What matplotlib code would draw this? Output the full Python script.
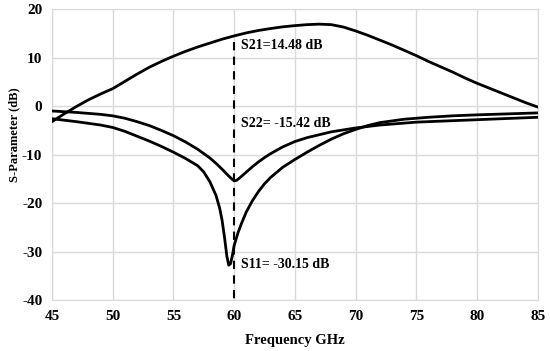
import numpy as np
import matplotlib
matplotlib.use('Agg')
import matplotlib.pyplot as plt

plt.rcParams['font.family'] = 'Liberation Serif'
plt.rcParams['font.weight'] = 'bold'
plt.rcParams['axes.unicode_minus'] = False

# values
f21 = [45, 46, 47, 48, 49, 50, 51, 52, 53, 54, 55, 56, 57, 58, 59, 60, 61, 62, 63, 64, 65, 66, 67, 68, 69, 70,
       71, 72, 73, 74, 75, 76, 77, 78, 79, 80, 81, 82, 83, 84, 85]
s21 = [-3.2, -1.6, -0.1, 1.3, 2.5, 3.6, 5.1, 6.6, 8.0, 9.2, 10.3, 11.3, 12.2, 13.0, 13.8, 14.48, 15.1, 15.6, 16.0, 16.35, 16.6, 16.8, 16.9, 16.8, 16.3, 15.5,
       14.6, 13.6, 12.6, 11.5, 10.4, 9.2, 8.1, 7.0, 5.8, 4.7, 3.7, 2.7, 1.7, 0.7, -0.2]

f22 = [45, 47, 49, 50, 51, 52, 53, 54, 55, 56, 57, 58, 58.5, 59, 59.5, 59.8, 60, 60.2, 60.5, 61, 61.5, 62, 62.5, 63, 64, 65, 66,
       67, 68, 70, 72, 75, 78, 80, 85]
s22 = [-1.0, -1.3, -1.7, -2.0, -2.5, -3.2, -4.0, -5.0, -6.1, -7.4, -8.9, -10.7, -11.8, -13.0, -14.3, -15.0, -15.42, -15.3, -14.7, -13.6, -12.5, -11.5, -10.6, -9.8, -8.4, -7.3, -6.5,
        -5.9, -5.3, -4.5, -3.9, -3.3, -3.0, -2.8, -2.3]

f11 = [45, 47, 49, 50, 51, 52, 53, 54, 55, 56, 57, 57.5, 58, 58.5, 58.8, 59, 59.2, 59.4, 59.55, 59.7, 59.85, 60, 60.3, 60.6, 61, 61.5, 62,
       62.5, 63, 64, 65, 66, 67, 68, 69, 70, 71, 72, 74, 76, 78, 80, 85]
s11 = [-2.6, -3.2, -3.9, -4.4, -5.2, -6.2, -7.2, -8.3, -9.5, -10.8, -12.3, -13.6, -15.6, -18.4, -21.0, -23.5, -27.0, -31.0, -32.8, -32.5, -30.8, -28.7, -26.2, -24.2, -21.8, -19.5, -17.6,
       -16.0, -14.7, -12.6, -11.0, -9.5, -8.1, -6.8, -5.7, -4.8, -4.0, -3.4, -2.7, -2.3, -2.0, -1.8, -1.4]

labels = ['S21=14.48 dB', 'S22= -15.42 dB', 'S11= -30.15 dB']
label_y = [12.5, -3.5, -32.7]

fig = plt.figure(figsize=(5.5, 3.51), dpi=100)
ax = fig.add_axes([0.0945, 0.145, 0.8835, 0.829])

for f, s in [(f21, s21), (f22, s22), (f11, s11)]:
    ax.plot(f, s, color='black', lw=2, solid_capstyle='round', solid_joinstyle='round', zorder=3)

ax.plot([60, 60], [13.2, -40], color='black', lw=1.5, ls=(0, (4, 3)), zorder=4)
for t, y in zip(labels, label_y):
    ax.text(60.6, y, t, fontsize=10, fontweight='bold', va='center', ha='left', zorder=5)

ax.set_xlim(45, 85)
ax.set_ylim(-40, 20)
ax.set_xticks(range(45, 86, 5))
ax.set_yticks(range(-40, 21, 10))
ax.grid(True, color='#d9d9d9', lw=1)
ax.set_axisbelow(True)
for sp in ax.spines.values():
    sp.set_color('#d9d9d9')
ax.tick_params(length=0, labelsize=11, pad=7)
ax.set_xlabel('Frequency GHz', fontsize=10.5, fontweight='bold', labelpad=8)
ax.set_ylabel('S-Parameter (dB)', fontsize=9, fontweight='bold')
ax.yaxis.set_label_coords(-0.066, 0.567)

fig.savefig('out.png', dpi=100)
